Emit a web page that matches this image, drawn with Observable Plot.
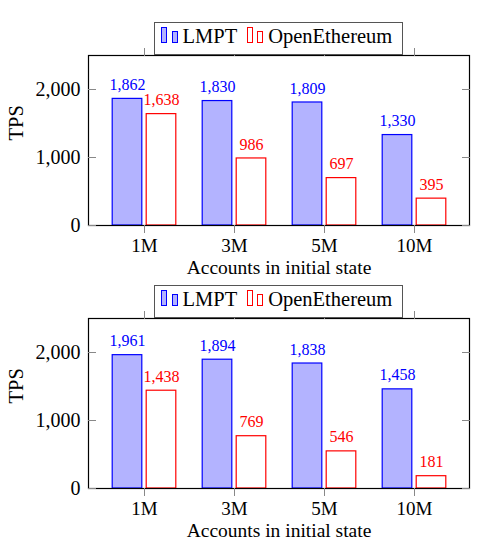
<!DOCTYPE html>
<html><head><meta charset="utf-8">
<script src="https://cdn.jsdelivr.net/npm/d3@7"></script>
<script src="https://cdn.jsdelivr.net/npm/@observablehq/plot@0.6"></script>
<style>
body{margin:0;background:#fff;}
#wrap{position:relative;width:495px;height:556px;overflow:hidden;}
.panel{position:absolute;left:0;}
.panel text{font-family:"Liberation Serif","Times New Roman",serif;}
.legend{position:absolute;left:154px;width:249px;height:33px;box-sizing:border-box;border:1px solid #555;background:#fff;display:flex;align-items:baseline;font-family:"Liberation Serif","Times New Roman",serif;font-size:20.5px;line-height:1;padding-top:3px;padding-left:6px;color:#000;}
.sw{display:inline-block;width:6px;box-sizing:border-box;}
</style></head><body><div id="wrap"></div>
<script>
const categories = ["1M","3M","5M","10M"];
const seriesNames = ["LMPT","OpenEthereum"];
const lmptTop = [1862,1830,1809,1330];
const oeTop = [1638,986,697,395];
const lmptBottom = [1961,1894,1838,1458];
const oeBottom = [1438,769,546,181];
const yTicks = [0,1000,2000];
const xLabel = "Accounts in initial state";
const yLabel = "TPS";

const blue = "#0000ff", blueFill = "#b3b3ff", red = "#ff0000";
const fmt = d3.format(",");
const wrap = document.getElementById("wrap");

function makePanel(lmpt, oe, top) {
  const L = categories.map((c,i)=>({cat:c, series:seriesNames[0], v:lmpt[i]}));
  const O = categories.map((c,i)=>({cat:c, series:seriesNames[1], v:oe[i]}));
  const svg = Plot.plot({
    width:495, height:280, marginTop:55, marginBottom:55, marginLeft:88, marginRight:26,
    x:{type:"band", domain:categories, paddingInner:0, paddingOuter:0.109},
    y:{domain:[0,2500]},
    style:{fontFamily:"Liberation Serif, serif", fontSize:"20px", background:"transparent", overflow:"visible", color:"#000"},
    marks:[
      Plot.barY(L,{x:"cat", y:"v", fill:blueFill, stroke:blue, strokeWidth:1.2, insetLeft:13.2, insetRight:47.2}),
      Plot.barY(O,{x:"cat", y:"v", fill:"#fff", stroke:red, strokeWidth:1.2, insetLeft:47.2, insetRight:13.2}),
      Plot.text(L,{x:"cat", y:"v", text:d=>fmt(d.v), dx:-17, dy:-14, fill:blue, fontSize:16}),
      Plot.text(O,{x:"cat", y:"v", text:d=>fmt(d.v), dx:17, dy:-14, fill:red, fontSize:16}),
      Plot.frame({stroke:"#000", strokeWidth:1.2}),
      Plot.axisX({anchor:"bottom", tickSize:8, tickPadding:5, stroke:"#888", label:null, fontSize:19}),
      Plot.axisX({anchor:"top", tickSize:8, fill:"none", stroke:"#888", label:null}),
      Plot.axisY({anchor:"left", ticks:yTicks, tickSize:0, tickPadding:8, tickFormat:fmt, label:null, fontSize:20}),
      Plot.axisY({anchor:"left", ticks:yTicks, tickSize:8, dx:8, fill:"none", stroke:"#888", label:null}),
      Plot.axisY({anchor:"right", ticks:yTicks, tickSize:8, dx:-8, fill:"none", stroke:"#888", label:null}),
      Plot.text([yLabel], {frameAnchor:"left", rotate:-90, dx:-72, fontSize:20.5, fill:"#000"}),
      Plot.text([xLabel], {frameAnchor:"bottom", dy:48.5, fontSize:19.5, fill:"#000"})
    ]
  });
  svg.classList.add("panel");
  svg.style.top = top + "px";
  wrap.appendChild(svg);

  const lg = document.createElement("div");
  lg.className = "legend";
  lg.style.top = (top + 22) + "px";
  lg.innerHTML =
    `<span class="sw" style="height:16px;background:${blueFill};border:1px solid ${blue}"></span>` +
    `<span class="sw" style="height:12px;margin-left:5px;background:${blueFill};border:1px solid ${blue}"></span>` +
    `<span style="margin-left:4.5px">${seriesNames[0]}</span>` +
    `<span class="sw" style="height:16px;margin-left:10px;background:#fff;border:1px solid ${red}"></span>` +
    `<span class="sw" style="height:12px;margin-left:4px;background:#fff;border:1px solid ${red}"></span>` +
    `<span style="margin-left:5px">${seriesNames[1]}</span>`;
  wrap.appendChild(lg);
}

makePanel(lmptTop, oeTop, 0);
makePanel(lmptBottom, oeBottom, 263);
</script>
</body></html>
